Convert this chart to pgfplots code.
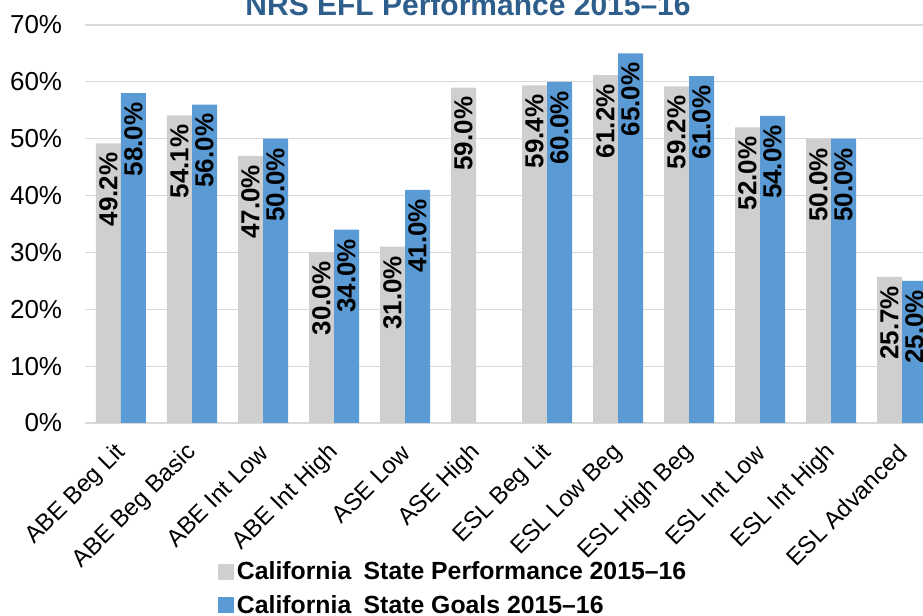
\documentclass[border=0pt]{standalone}
\usepackage{fontspec}
\setmainfont{Liberation Sans}
\usepackage{pgfplots}
\pgfplotsset{compat=1.18}
\definecolor{perf}{HTML}{CFCFCF}
\definecolor{goal}{HTML}{5B9BD5}
\definecolor{gridc}{HTML}{D9D9D9}
\definecolor{ttl}{HTML}{2E5E8C}
\begin{document}
\begin{tikzpicture}
\path[use as bounding box] (-64.125pt,-144.75pt) rectangle (628.125pt,317.25pt);
\begin{axis}[
  at={(0pt,0pt)}, anchor=south west,
  width=639pt, height=298.5pt, scale only axis,
  clip=false,
  ybar=0pt, bar width=18.75pt,
  xmin=-0.5, xmax=11.5, ymin=0, ymax=70,
  xtick={0,...,11},
  xticklabels={ABE Beg Lit, ABE Beg Basic, ABE Int Low, ABE Int High, ASE Low, ASE High, ESL Beg Lit, ESL Low Beg, ESL High Beg, ESL Int Low, ESL Int High, ESL Advanced},
  ytick={0,10,...,70},
  yticklabel={\pgfmathprintnumber{\tick}\%},
  ymajorgrids, grid style={draw=gridc, line width=0.8pt},
  axis line style={draw=none},
  major tick length=0pt,
  /pgf/number format/assume math mode=true,
  yticklabel style={font=\fontsize{19.5}{22}\selectfont, text=black, xshift=-14pt},
  xticklabel style={font=\fontsize{18}{21}\selectfont, text=black, xshift=3pt, yshift=-17pt, rotate=45, anchor=east},
  nodes near coords={\pgfmathprintnumber[fixed,fixed zerofill,precision=1]{\pgfplotspointmeta}\%},
  every node near coord/.append style={rotate=90, anchor=east, font=\bfseries\fontsize{19.5}{22}\selectfont, text=black, inner xsep=6.75pt, inner ysep=0pt},
  legend style={at={(0.1555,-0.3415)}, anchor=north west, draw=none, fill=none,
    font=\bfseries\fontsize{18.6}{22}\selectfont, row sep=6pt, inner sep=0pt},
  legend cell align=left,
  legend image code/.code={\fill[#1] (0pt,-6pt) rectangle (12pt,6pt);},
]
\addplot[fill=perf, draw=none] coordinates {(0,49.2) (1,54.1) (2,47.0) (3,30.0) (4,31.0) (5,59.0) (6,59.4) (7,61.2) (8,59.2) (9,52.0) (10,50.0) (11,25.7)};
\addplot[fill=goal, draw=none] coordinates {(0,58.0) (1,56.0) (2,50.0) (3,34.0) (4,41.0) (6,60.0) (7,65.0) (8,61.0) (9,54.0) (10,50.0) (11,25.0)};
\legend{California\enspace State Performance 2015--16, California\enspace State Goals 2015--16}
\node[anchor=base, font=\bfseries\fontsize{22.5}{26}\selectfont, text=ttl, yshift=6.75pt] at (rel axis cs:0.449,1) {NRS EFL Performance 2015--16};
\end{axis}
\end{tikzpicture}
\end{document}
